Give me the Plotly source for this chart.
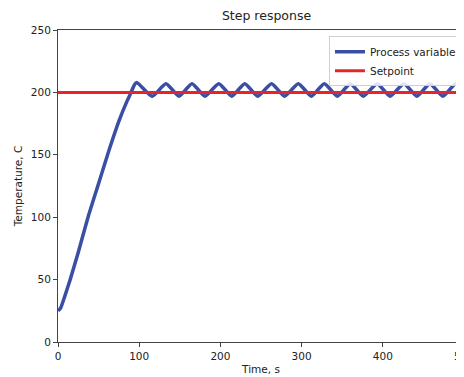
import plotly.graph_objects as go

# Ramp phase of the process variable (time s, temperature C)
ramp_t = [0, 3, 8, 15, 25, 37, 50, 63, 75, 85, 90, 94]
ramp_v = [25, 27, 36, 50, 72, 100, 127, 154, 177, 193, 200, 206]

# Oscillation peaks and troughs around the setpoint
peak_t = [97, 133, 165, 198, 230, 263, 296, 328, 360, 393, 426, 458, 490]
peak_v = [208, 207, 207, 207, 207, 207, 207, 207, 207, 207, 207, 207, 207]
trough_t = [116, 149, 181, 214, 246, 279, 312, 344, 376, 409, 442, 474, 505]
trough_v = [197, 197, 197, 197, 197, 197, 197, 197, 197, 197, 197, 197, 197]

setpoint_t = [0, 500]
setpoint_v = [200, 200]

x_ticks = [0, 100, 200, 300, 400, 500]
y_ticks = [0, 50, 100, 150, 200, 250]

# assemble process variable series
pv_t = list(ramp_t)
pv_v = list(ramp_v)
for pt, pv, tt, tv in zip(peak_t, peak_v, trough_t, trough_v):
    pv_t += [pt, tt]
    pv_v += [pv, tv]

font = "DejaVu Sans"
fig = go.Figure()
fig.add_trace(go.Scatter(x=pv_t, y=pv_v, mode="lines", name="Process variable",
                         line=dict(color="#3a4ea3", width=3.5, shape="spline", smoothing=0.6)))
fig.add_trace(go.Scatter(x=setpoint_t, y=setpoint_v, mode="lines", name="Setpoint",
                         line=dict(color="#e8242b", width=3)))

axis_common = dict(showline=True, linecolor="#444", linewidth=1, mirror=True,
                   ticks="outside", ticklen=4, tickcolor="#444", showgrid=False,
                   zeroline=False, automargin=False,
                   tickfont=dict(family=font, size=10.5, color="#222"))

fig.update_layout(
    width=456, height=369,
    margin=dict(l=50, r=0, t=22, b=35),
    paper_bgcolor="white", plot_bgcolor="white",
    title=dict(text="Step response", x=0.567, xanchor="center", y=0.99, yanchor="top",
               font=dict(family=font, size=12.5, color="#222")),
    xaxis=dict(range=[0, 500], tickvals=x_ticks, ticklabeloverflow="allow", **axis_common,
               title=dict(text="Time, s", standoff=5, font=dict(family=font, size=10.5, color="#222"))),
    yaxis=dict(range=[0, 250], tickvals=y_ticks, **axis_common,
               title=dict(text="Temperature, C", standoff=6, font=dict(family=font, size=10.5, color="#222"))),
    legend=dict(x=0.995, y=0.98, xanchor="right", yanchor="top",
                bgcolor="rgba(255,255,255,0.85)", bordercolor="#d0d0d0", borderwidth=1,
                font=dict(family=font, size=10.5, color="#222"), itemwidth=30,
                tracegroupgap=0),
    showlegend=True,
)

fig.write_html("out.html")
